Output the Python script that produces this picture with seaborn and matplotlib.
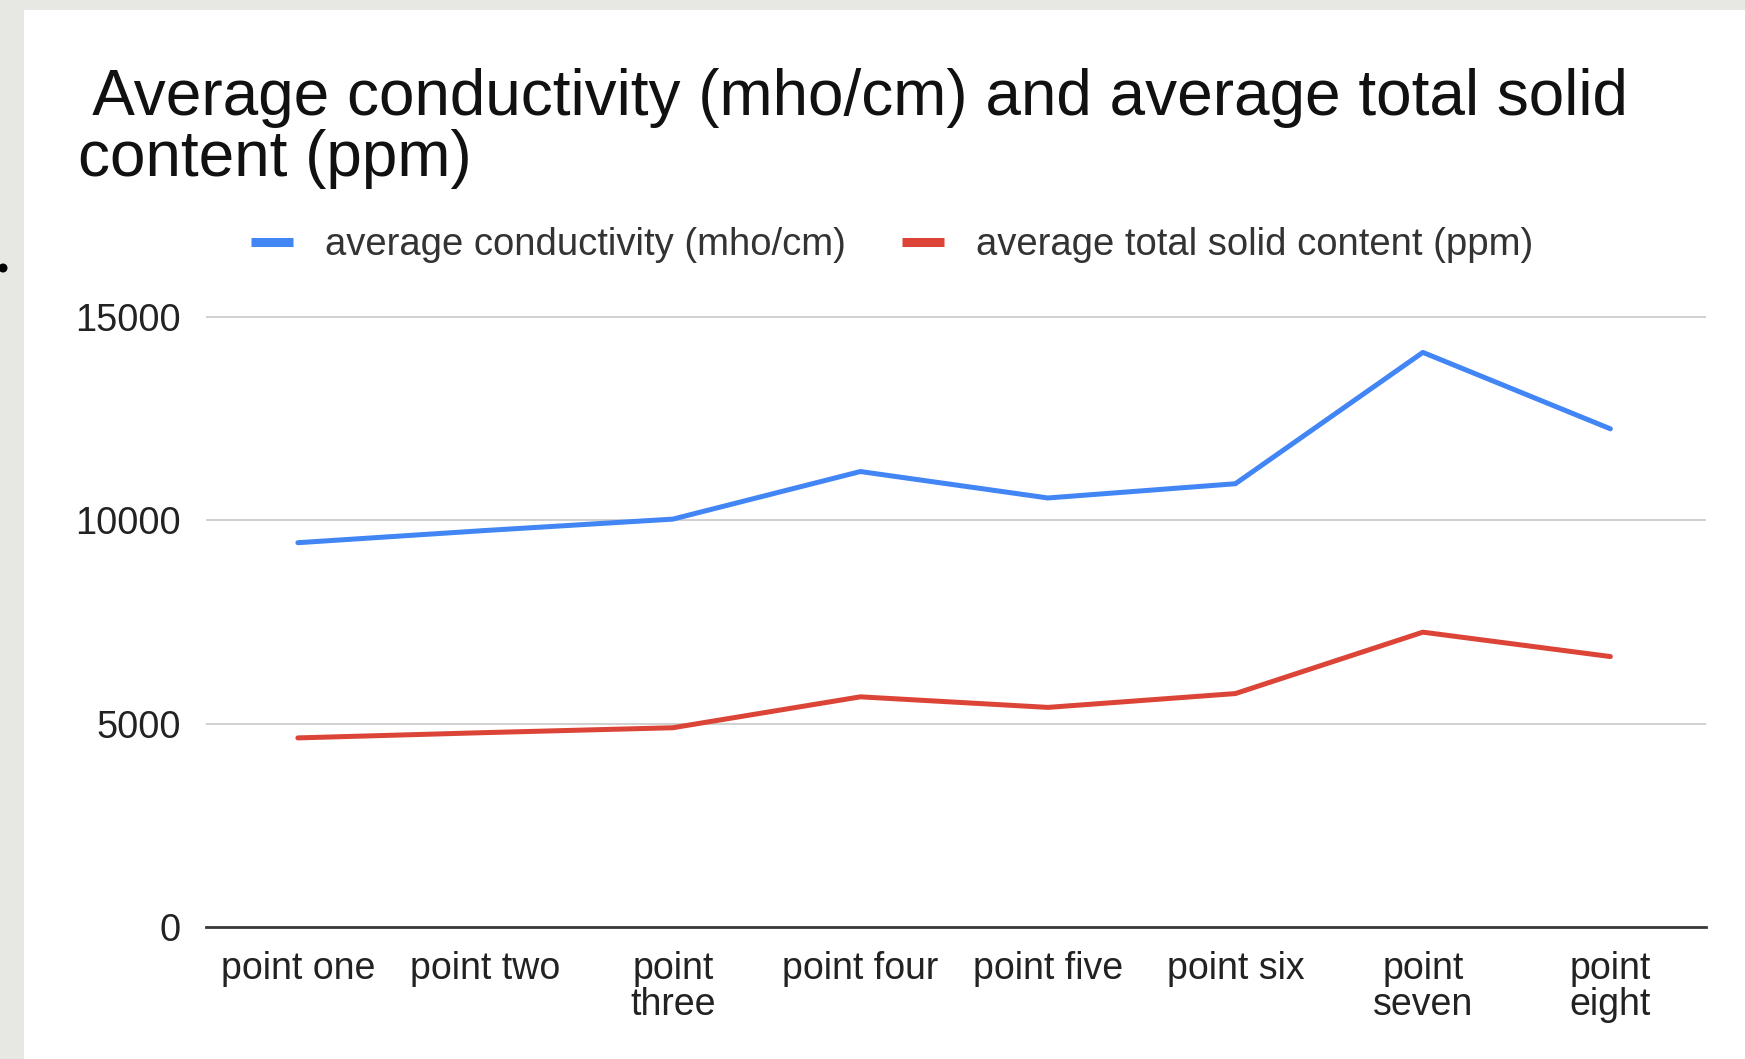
import matplotlib
matplotlib.use("Agg")
import matplotlib.pyplot as plt
import seaborn as sns
import pandas as pd
from matplotlib.patches import Rectangle, Ellipse
from matplotlib.lines import Line2D

# Sampling points and the two measured series
points = ["point one", "point two", "point three", "point four",
          "point five", "point six", "point seven", "point eight"]
tick_labels = ["point one", "point two", "point\nthree", "point four",
               "point five", "point six", "point\nseven", "point\neight"]
conductivity = [9450, 9750, 10030, 11200, 10550, 10900, 14130, 12250]
solids = [4650, 4780, 4900, 5660, 5400, 5740, 7250, 6650]
series_names = ["average conductivity (mho/cm)", "average total solid content (ppm)"]
y_ticks = [0, 5000, 10000, 15000]
title = " Average conductivity (mho/cm) and average total solid\ncontent (ppm)"

BLUE = "#4285F4"
RED = "#DB4437"

sns.set_theme(style="white")
plt.rcParams["font.family"] = ["Liberation Sans", "DejaVu Sans"]

W, H = 1745, 1059
fig = plt.figure(figsize=(W / 100, H / 100), dpi=100, facecolor="#e7e7e3")

# white chart card sitting on the slide background
fig.patches.append(Rectangle((24 / W, 0), 1 - 24 / W, 1 - 10 / H,
                             transform=fig.transFigure, facecolor="white",
                             edgecolor="none", zorder=-2))
fig.patches.append(Ellipse((3 / W, 1 - 268 / H), 9 / W, 9 / H,
                           transform=fig.transFigure, facecolor="black",
                           edgecolor="none", zorder=-1))

df = pd.DataFrame({
    "point": points * 2,
    "value": conductivity + solids,
    "series": [series_names[0]] * len(points) + [series_names[1]] * len(points),
})

# plot area: y=0 at 927 px, y=15000 at 317 px
top_px, bot_px = 310, 927
ax = fig.add_axes([206 / W, 1 - bot_px / H, 1500 / W, (bot_px - top_px) / H])
ax.set_facecolor("white")

sns.lineplot(data=df, x="point", y="value", hue="series",
             palette=[BLUE, RED], linewidth=3.6, sort=False,
             legend=False, ax=ax)
for line in ax.get_lines():
    line.set_solid_joinstyle("round")

ymax = 15000 * (bot_px - top_px) / (927 - 317)
ax.set_ylim(0, ymax)
ax.set_xlim(-0.49, 7.51)
ax.set_yticks(y_ticks)
ax.set_yticklabels([str(v) for v in y_ticks])
ax.set_xticks(range(len(points)))
ax.set_xticklabels(tick_labels, linespacing=1.02)
ax.set_xlabel("")
ax.set_ylabel("")

ax.grid(axis="y", color="#d0d0d0", linewidth=1.4)
ax.grid(axis="x", visible=False)
for side in ["top", "left", "right"]:
    ax.spines[side].set_visible(False)
ax.spines["bottom"].set_color("#3a3a3a")
ax.spines["bottom"].set_linewidth(2.0)
ax.spines["bottom"].set_zorder(5)

ax.tick_params(axis="y", length=0, pad=18, labelsize=27.3, labelcolor="#222222")
ax.tick_params(axis="x", length=0, pad=17, labelsize=27, labelcolor="#222222")

handles = [Line2D([], [], color=BLUE, linewidth=6.5, solid_capstyle="butt"),
           Line2D([], [], color=RED, linewidth=6.5, solid_capstyle="butt")]
fig.legend(handles, series_names, loc="center left",
           bbox_to_anchor=(251 / W, 1 - 245 / H), bbox_transform=fig.transFigure,
           ncol=2, frameon=False, fontsize=27.5, handlelength=1.1,
           handletextpad=0.85, columnspacing=1.45, borderpad=0, borderaxespad=0,
           labelcolor="#333333")

fig.text(78 / W, 1 - 176 / H, title, fontsize=46, ha="left", va="baseline",
         color="#111111", linespacing=1.02)

fig.savefig("out.png", dpi=100, facecolor=fig.get_facecolor())
